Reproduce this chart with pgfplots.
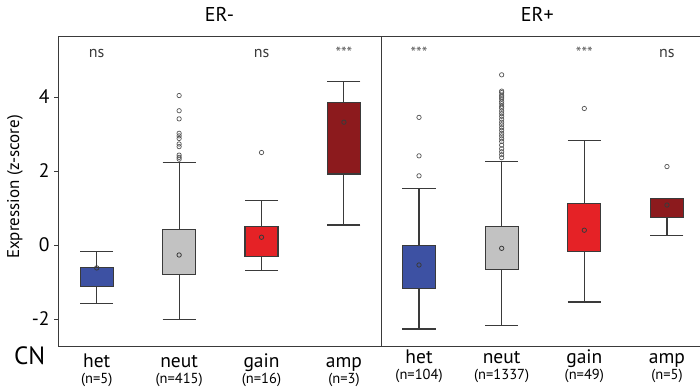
\documentclass[border=0pt]{standalone}
\usepackage{fontspec}
\setmainfont{PT Sans}
\usepackage{pgfplots}
\pgfplotsset{compat=1.18}
\usepgfplotslibrary{statistics}
\definecolor{cblue}{HTML}{3D51A3}
\definecolor{cgray}{HTML}{C2C2C2}
\definecolor{cred}{HTML}{E52226}
\definecolor{cdark}{HTML}{8C1A1D}
\definecolor{cline}{HTML}{3A3A3A}
\definecolor{cout}{HTML}{555555}
\pgfplotsset{
  panel/.style={
    scale only axis, width=#1, height=310pt,
    ymin=-2.73, ymax=5.65,
    axis line style={cline, line width=0.9pt},
    xtick={0,1,2,3},
    x tick style={draw=none},
    xticklabel style={anchor=north, inner sep=0pt, yshift=-3pt, font=\fontsize{19.5}{19.5}\selectfont},
    /pgf/number format/assume math mode=true,
    boxplot/draw direction=y,
    boxplot/box extend=0.4,
    boxplot/whisker extend=0.4,
    boxplot/draw/median/.code={},
    clip=false,
  },
  bx/.style={draw=cline, line width=1.1pt, fill=#1, solid},
  mn/.style={only marks, mark=o, mark size=2.2pt, draw=cline, line width=0.8pt},
  ol/.style={only marks, mark=o, mark size=2.2pt, draw=cout, line width=0.7pt},
}
\newcommand{\cl}[2]{\begin{tabular}[t]{@{}c@{}}\rule{0pt}{14pt}#1\\[-3pt]{\fontsize{14.5}{14.5}\selectfont(n=#2)}\end{tabular}}
\begin{document}
\begin{tikzpicture}
\begin{axis}[panel=323pt, at={(0,0)}, anchor=south west,
  xmin=-0.47, xmax=3.45,
  xticklabels={{\cl{het}{5}},{\cl{neut}{415}},{\cl{gain}{16}},{\cl{amp}{3}}},
  ytick={-2,0,2,4}, ytick pos=left,
  y tick style={cline, line width=0.9pt},
  tick align=outside, major tick length=4pt,
  yticklabel style={font=\fontsize{19.5}{19.5}\selectfont, xshift=-1pt},
  ylabel={Expression (z-score)},
  ylabel style={at={(axis description cs:-0.133,0.513)}, anchor=center, font=\fontsize{17}{17}\selectfont},
  title={ER-}, title style={font=\fontsize{20}{20}\selectfont, at={(axis description cs:0.5,1)}, anchor=south, yshift=5pt},
  axis x line*=box, axis y line*=box,
]
\addplot[bx=cblue, boxplot prepared={draw position=0, lower whisker=-1.59, lower quartile=-1.11, median=-0.85, upper quartile=-0.60, upper whisker=-0.18}] coordinates {};
\addplot[bx=cgray, boxplot prepared={draw position=1, lower whisker=-2.02, lower quartile=-0.79, median=-0.2, upper quartile=0.42, upper whisker=2.22}] coordinates {};
\addplot[bx=cred, boxplot prepared={draw position=2, lower whisker=-0.69, lower quartile=-0.30, median=0.1, upper quartile=0.50, upper whisker=1.20}] coordinates {};
\addplot[bx=cdark, boxplot prepared={draw position=3, lower whisker=0.54, lower quartile=1.92, median=3.0, upper quartile=3.86, upper whisker=4.41}] coordinates {};
\addplot[mn] coordinates {(0,-0.62) (1,-0.27) (2,0.21) (3,3.32)};
\addplot[ol] coordinates {(1,4.04) (1,3.63) (1,3.41) (1,3.02) (1,2.95) (1,2.88) (1,2.73) (1,2.66) (1,2.43) (1,2.37) (1,2.32) (2,2.50)};
\node[font=\fontsize{16}{16}\selectfont, text=cline] at (axis cs:0,5.19) {ns};
\node[font=\fontsize{16}{16}\selectfont, text=cline] at (axis cs:2,5.19) {ns};
\node[font=\fontsize{16}{16}\selectfont, text=cline!80] at (axis cs:3,5.19) {***};
\end{axis}
\begin{axis}[panel=319pt, at={(323pt,0)}, anchor=south west,
  xmin=-0.46, xmax=3.4,
  xticklabels={{\cl{het}{104}},{\cl{neut}{1337}},{\cl{gain}{49}},{\cl{amp}{5}}},
  ytick=\empty,
  title={ER+}, title style={font=\fontsize{20}{20}\selectfont, at={(axis description cs:0.49,1)}, anchor=south, yshift=5pt},
  axis x line*=box, axis y line*=left,
]
\addplot[bx=cblue, boxplot prepared={draw position=0, lower whisker=-2.27, lower quartile=-1.18, median=-0.6, upper quartile=-0.01, upper whisker=1.52}] coordinates {};
\addplot[bx=cgray, boxplot prepared={draw position=1, lower whisker=-2.18, lower quartile=-0.66, median=-0.1, upper quartile=0.51, upper whisker=2.25}] coordinates {};
\addplot[bx=cred, boxplot prepared={draw position=2, lower whisker=-1.54, lower quartile=-0.18, median=0.4, upper quartile=1.11, upper whisker=2.83}] coordinates {};
\addplot[bx=cdark, boxplot prepared={draw position=3, lower whisker=0.26, lower quartile=0.74, median=1.0, upper quartile=1.25, upper whisker=1.25}] coordinates {};
\addplot[mn] coordinates {(0,-0.54) (1,-0.09) (2,0.40) (3,1.08)};
\addplot[ol] coordinates {(0,3.45) (0,2.41) (0,1.87)
 (1,4.60) (1,4.16) (1,4.12) (1,4.05) (1,4.00) (1,3.95) (1,3.88) (1,3.82) (1,3.75) (1,3.70) (1,3.62) (1,3.55) (1,3.48) (1,3.40) (1,3.32) (1,3.25) (1,3.17) (1,3.10) (1,3.02) (1,2.95) (1,2.87) (1,2.80) (1,2.70) (1,2.60) (1,2.52) (1,2.44) (1,2.36)
 (2,3.69) (3,2.12)};
\node[font=\fontsize{16}{16}\selectfont, text=cline!80] at (axis cs:0,5.19) {***};
\node[font=\fontsize{16}{16}\selectfont, text=cline!80] at (axis cs:2,5.19) {***};
\node[font=\fontsize{16}{16}\selectfont, text=cline] at (axis cs:3,5.19) {ns};
\end{axis}
\node[anchor=base west, inner sep=0pt, font=\fontsize{25}{25}\selectfont] at (-44pt,-19pt) {CN};
\pgfresetboundingbox
\path[use as bounding box] (-58pt,-44pt) rectangle (642pt,346pt);
\end{tikzpicture}
\end{document}
